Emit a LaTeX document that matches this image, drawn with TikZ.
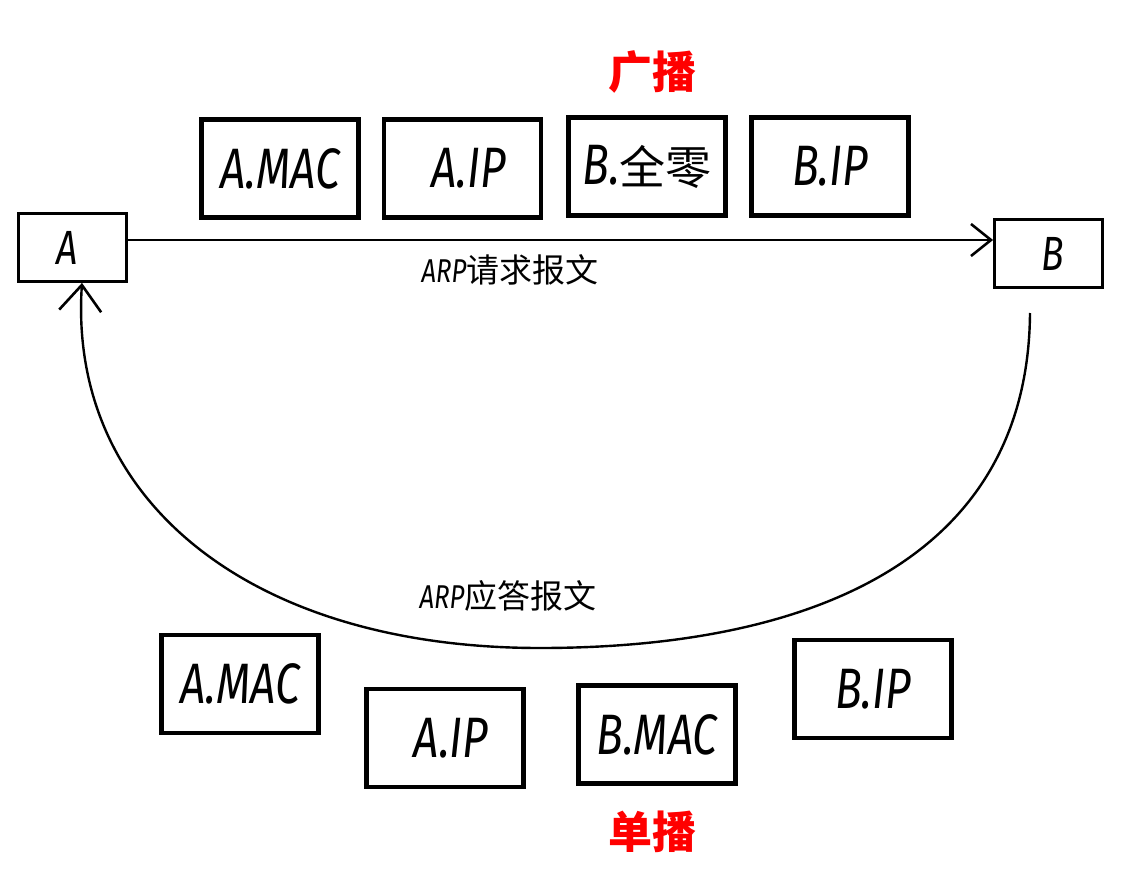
\documentclass[tikz,border=0pt]{standalone}
\usepackage{fontspec}
\setsansfont{Fira Sans}[FakeStretch=0.78]
\newfontfamily\cjk{Noto Sans CJK SC}
\usetikzlibrary{arrows.meta}
\begin{document}
\begin{tikzpicture}[x=1pt,y=-1pt,
  field/.style={draw, line width=4.2pt, minimum width=157pt, minimum height=98pt, inner sep=0pt, font=\sffamily\itshape\fontsize{57}{62}\selectfont},
  host/.style={draw, line width=2.8pt, minimum width=108pt, minimum height=68pt, inner sep=0pt, font=\sffamily\itshape\fontsize{48}{52}\selectfont},
  lbl/.style={font=\fontsize{33}{36}\selectfont, inner sep=0pt},
  cast/.style={text=red, font=\cjk\bfseries\fontsize{44}{48}\selectfont, inner sep=0pt},
  conn/.style={line width=2.4pt, -{Straight Barb[length=20pt,width=32pt,line width=2.6pt]}},
  connb/.style={line width=2.4pt, -{Straight Barb[length=26pt,width=42pt,line width=2.6pt]}}]
\useasboundingbox (0,0) rectangle (1139,890);
% hosts
\node[host] (A) at (72.5,247.5) {\hspace*{-10pt}A};
\node[host] (B) at (1048.5,253.5) {\hspace*{8pt}B};
% top fields
\node[field] (t1) at (280,168.5) {A.MAC};
\node[field] (t2) at (462.5,168.5) {\hspace*{12pt}A.IP};
\node[field] (t3) at (647,166.5) {B.{\cjk\upshape\fontsize{46}{50}\selectfont 全零}};
\node[field] (t4) at (830,166.5) {B.IP};
% bottom fields
\node[field] (b1) at (240,684) {A.MAC};
\node[field] (b2) at (445,738) {\hspace*{12pt}A.IP};
\node[field] (b3) at (657,734.5) {B.MAC};
\node[field] (b4) at (873,689) {B.IP};
% captions
\node[cast] (bc) at (652,72) {广播};
\node[cast] (uc) at (652,832) {单播};
% connectors
\draw[conn] (A.east |- 0,240) -- (B.west |- 0,240);
\coordinate (Bs) at (1030,313);
\coordinate (Bot) at (540,648);
\draw[connb] (Bs) .. controls (1028,560) and (810,648) .. (Bot)
  .. controls (250,648) and (68,500) .. (A.south -| 82,0);
% labels
\node[lbl] (l1) at (510,270) {\sffamily\itshape ARP\cjk\upshape 请求报文};
\node[lbl] (l2) at (508,596) {\sffamily\itshape ARP\cjk\upshape 应答报文};
\end{tikzpicture}
\end{document}
